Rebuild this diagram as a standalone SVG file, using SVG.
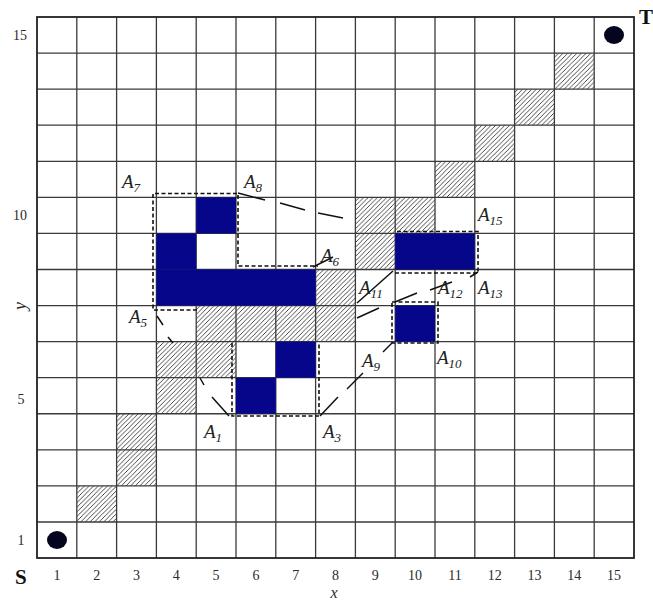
<svg xmlns="http://www.w3.org/2000/svg" width="653" height="600" viewBox="0 0 653 600">
<defs>
<pattern id="hatch" patternUnits="userSpaceOnUse" width="4.6" height="4.6">
<path d="M-1,1 L1,-1 M0,4.6 L4.6,0 M3.6,5.6 L5.6,3.6" stroke="#2a2a2a" stroke-width="0.85"/>
</pattern>
</defs>
<style>
.grid line{stroke:#3a3a3a;stroke-width:1.3}
.hat{fill:url(#hatch)}
.obs{fill:#06068a}
.box{fill:none;stroke:#111;stroke-width:1.6;stroke-dasharray:4 2.5}
.con line{stroke:#111;stroke-width:1.5}
.lab{font-family:"Liberation Serif",serif;font-style:italic;font-size:19px;fill:#222}
.sub{font-size:13px}
.tick{font-family:"Liberation Serif",serif;font-size:14px;fill:#2a2a2a}
.big{font-family:"Liberation Serif",serif;font-weight:bold;font-size:21px;fill:#111}
</style>
<rect width="653" height="600" fill="#fff"/>
<g id="hatched">
<rect class="hat" x="76.8" y="485.91" width="39.8" height="36.07"/>
<rect class="hat" x="116.6" y="449.84" width="39.8" height="36.07"/>
<rect class="hat" x="116.6" y="413.77" width="39.8" height="36.07"/>
<rect class="hat" x="156.4" y="377.7" width="39.8" height="36.07"/>
<rect class="hat" x="156.4" y="341.63" width="79.6" height="36.07"/>
<rect class="hat" x="196.2" y="305.56" width="159.2" height="36.07"/>
<rect class="hat" x="315.6" y="269.49" width="39.8" height="36.07"/>
<rect class="hat" x="355.4" y="233.42" width="39.8" height="36.07"/>
<rect class="hat" x="355.4" y="197.35" width="79.6" height="36.07"/>
<rect class="hat" x="435" y="161.28" width="39.8" height="36.07"/>
<rect class="hat" x="474.8" y="125.21" width="39.8" height="36.07"/>
<rect class="hat" x="514.6" y="89.14" width="39.8" height="36.07"/>
<rect class="hat" x="554.4" y="53.07" width="39.8" height="36.07"/>
</g>
<g id="grid" class="grid">
<line x1="76.8" y1="17" x2="76.8" y2="558"/>
<line x1="116.6" y1="17" x2="116.6" y2="558"/>
<line x1="156.4" y1="17" x2="156.4" y2="558"/>
<line x1="196.2" y1="17" x2="196.2" y2="558"/>
<line x1="236" y1="17" x2="236" y2="558"/>
<line x1="275.8" y1="17" x2="275.8" y2="558"/>
<line x1="315.6" y1="17" x2="315.6" y2="558"/>
<line x1="355.4" y1="17" x2="355.4" y2="558"/>
<line x1="395.2" y1="17" x2="395.2" y2="558"/>
<line x1="435" y1="17" x2="435" y2="558"/>
<line x1="474.8" y1="17" x2="474.8" y2="558"/>
<line x1="514.6" y1="17" x2="514.6" y2="558"/>
<line x1="554.4" y1="17" x2="554.4" y2="558"/>
<line x1="594.2" y1="17" x2="594.2" y2="558"/>
<line x1="37" y1="53.07" x2="634" y2="53.07"/>
<line x1="37" y1="89.14" x2="634" y2="89.14"/>
<line x1="37" y1="125.21" x2="634" y2="125.21"/>
<line x1="37" y1="161.28" x2="634" y2="161.28"/>
<line x1="37" y1="197.35" x2="634" y2="197.35"/>
<line x1="37" y1="233.42" x2="634" y2="233.42"/>
<line x1="37" y1="269.49" x2="634" y2="269.49"/>
<line x1="37" y1="305.56" x2="634" y2="305.56"/>
<line x1="37" y1="341.63" x2="634" y2="341.63"/>
<line x1="37" y1="377.7" x2="634" y2="377.7"/>
<line x1="37" y1="413.77" x2="634" y2="413.77"/>
<line x1="37" y1="449.84" x2="634" y2="449.84"/>
<line x1="37" y1="485.91" x2="634" y2="485.91"/>
<line x1="37" y1="521.98" x2="634" y2="521.98"/>
<rect x="37" y="17" width="597" height="541" fill="none" stroke="#222" stroke-width="1.8"/>
</g>
<g id="obstacles">
<rect class="obs" x="196.2" y="197.35" width="39.8" height="36.07"/>
<rect class="obs" x="156.4" y="233.42" width="39.8" height="36.07"/>
<rect class="obs" x="156.4" y="269.49" width="159.2" height="36.07"/>
<rect class="obs" x="395.2" y="233.42" width="79.6" height="36.07"/>
<rect class="obs" x="395.2" y="305.56" width="39.8" height="36.07"/>
<rect class="obs" x="275.8" y="341.63" width="39.8" height="36.07"/>
<rect class="obs" x="236" y="377.7" width="39.8" height="36.07"/>
</g>
<g id="boxes">
<polyline class="box" points="197,310 153,310 153,193.5 238,193.5 238,266 318,266"/>
<polyline class="box" points="232,343 232,416 319,416 319,343"/>
<rect class="box" x="392" y="302" width="46" height="41"/>
<polyline class="box" points="395,273 478,273 478,231.5 395,231.5"/>
</g>
<g id="connectors" class="con">
<line x1="238" y1="193" x2="265" y2="200"/>
<line x1="280" y1="203" x2="305" y2="210"/>
<line x1="318" y1="213" x2="343" y2="218"/>
<line x1="313" y1="267" x2="333" y2="257"/>
<line x1="157" y1="316" x2="163" y2="325"/>
<line x1="168" y1="337" x2="173" y2="343"/>
<line x1="200" y1="378" x2="204" y2="385"/>
<line x1="212" y1="397" x2="229" y2="416"/>
<line x1="320" y1="416" x2="338" y2="397"/>
<line x1="347" y1="389" x2="363" y2="373"/>
<line x1="383" y1="352" x2="392" y2="343"/>
<line x1="357" y1="318" x2="379" y2="308"/>
<line x1="357" y1="303" x2="393" y2="271"/>
<line x1="395" y1="302" x2="417" y2="293"/>
<line x1="430" y1="290" x2="452" y2="282"/>
<line x1="470" y1="277" x2="478" y2="272"/>
</g>
<g id="S">
<ellipse cx="57" cy="540" rx="10" ry="9" fill="#050520"/>
<text class="big" x="15" y="584">S</text>
</g>
<g id="T">
<ellipse cx="614" cy="35" rx="10" ry="9" fill="#050520"/>
<text class="big" x="639" y="24">T</text>
</g>
<g id="labels">
<text class="lab" x="122" y="188">A<tspan class="sub" dy="4">7</tspan></text>
<text class="lab" x="244" y="188">A<tspan class="sub" dy="4">8</tspan></text>
<text class="lab" x="321" y="262">A<tspan class="sub" dy="4">6</tspan></text>
<text class="lab" x="129" y="323">A<tspan class="sub" dy="4">5</tspan></text>
<text class="lab" x="204" y="438">A<tspan class="sub" dy="4">1</tspan></text>
<text class="lab" x="323" y="438">A<tspan class="sub" dy="4">3</tspan></text>
<text class="lab" x="362" y="367">A<tspan class="sub" dy="4">9</tspan></text>
<text class="lab" x="437" y="364">A<tspan class="sub" dy="4">10</tspan></text>
<text class="lab" x="359" y="294">A<tspan class="sub" dy="4">11</tspan></text>
<text class="lab" x="438" y="294">A<tspan class="sub" dy="4">12</tspan></text>
<text class="lab" x="478" y="294">A<tspan class="sub" dy="4">13</tspan></text>
<text class="lab" x="478" y="221">A<tspan class="sub" dy="4">15</tspan></text>
</g>
<g id="axes" class="tick" text-anchor="middle">
<text x="57" y="580">1</text>
<text x="96.7" y="580">2</text>
<text x="136.5" y="580">3</text>
<text x="176.3" y="580">4</text>
<text x="216.1" y="580">5</text>
<text x="255.9" y="580">6</text>
<text x="295.7" y="580">7</text>
<text x="335.5" y="580">8</text>
<text x="375.3" y="580">9</text>
<text x="415.1" y="580">10</text>
<text x="454.9" y="580">11</text>
<text x="494.7" y="580">12</text>
<text x="534.5" y="580">13</text>
<text x="574.3" y="580">14</text>
<text x="614.1" y="580">15</text>
<text x="20" y="40">15</text>
<text x="20" y="220">10</text>
<text x="21" y="404">5</text>
<text x="21" y="545">1</text>
<text x="334" y="598" font-style="italic" font-size="16">x</text>
<text x="0" y="0" font-style="italic" font-size="18" transform="translate(26,306) rotate(-90)">y</text>
</g>
</svg>
